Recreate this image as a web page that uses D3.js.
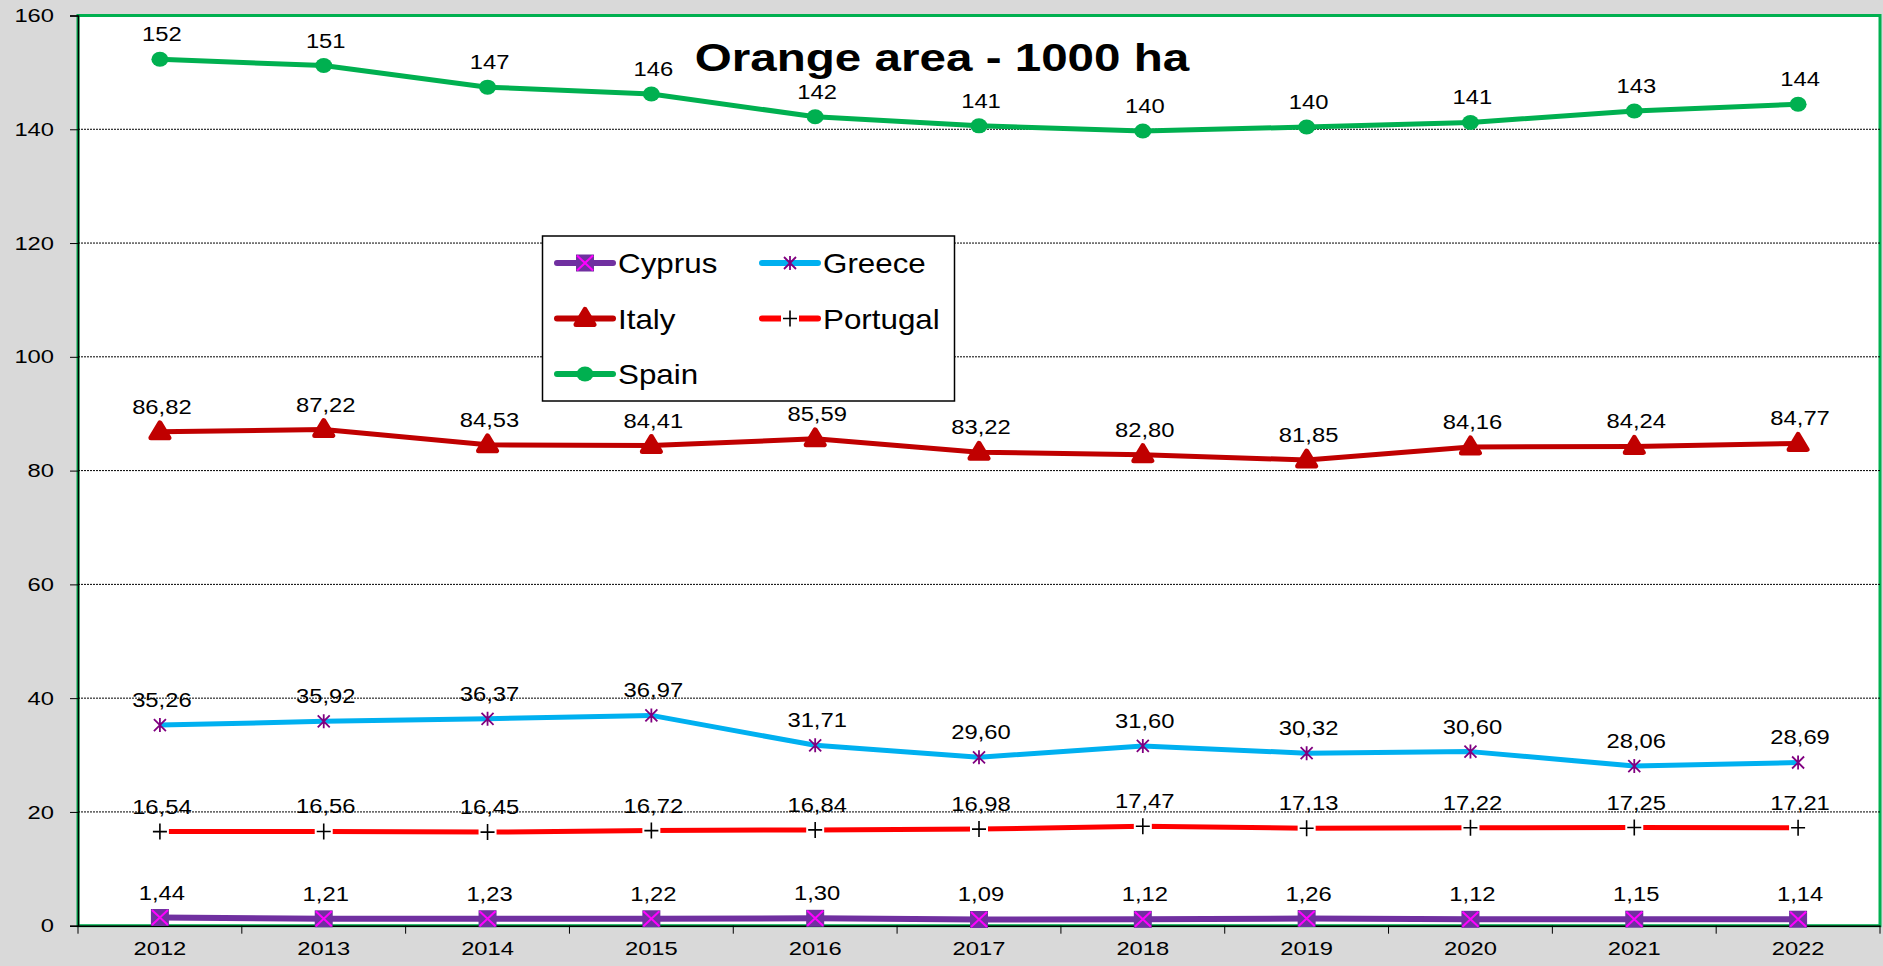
<!DOCTYPE html>
<html>
<head>
<meta charset="utf-8">
<script src="https://cdn.jsdelivr.net/npm/d3@7"></script>
<style>
  body { margin: 0; background: #d9d9d9; }
  svg { display: block; font-family: "Liberation Sans", Arial, sans-serif; }
</style>
</head>
<body>
<svg id="chart" width="1883" height="966"></svg>
<script>
const years = ["2012", "2013", "2014", "2015", "2016", "2017", "2018", "2019", "2020", "2021", "2022"];
const cyprus = [1.44, 1.21, 1.23, 1.22, 1.30, 1.09, 1.12, 1.26, 1.12, 1.15, 1.14];
const greece = [35.26, 35.92, 36.37, 36.97, 31.71, 29.60, 31.60, 30.32, 30.60, 28.06, 28.69];
const italy = [86.82, 87.22, 84.53, 84.41, 85.59, 83.22, 82.80, 81.85, 84.16, 84.24, 84.77];
const portugal = [16.54, 16.56, 16.45, 16.72, 16.84, 16.98, 17.47, 17.13, 17.22, 17.25, 17.21];
const spain = [152.3, 151.2, 147.4, 146.2, 142.2, 140.6, 139.7, 140.4, 141.2, 143.2, 144.4];
const yTicks = [0, 20, 40, 60, 80, 100, 120, 140, 160];

const svg = d3.select('#chart');

const plotLeft = 78, plotRight = 1880, plotTop = 15.5, plotBottom = 925.7;
const stretch = 1.25; // text in the original is a bit wider than plain Arial

const x = d3.scaleBand().domain(years).range([plotLeft, plotRight]);
const y = d3.scaleLinear().domain([0, 160]).range([plotBottom, plotTop]);
const cx = (d) => x(d) + x.bandwidth() / 2;

const locale = d3.formatLocale({ decimal: ",", thousands: ".", grouping: [3], currency: ["", "€"] });
const fmt2 = locale.format(".2f");
const fmt0 = locale.format(".0f");

// plot background + green border
svg.append('rect')
  .attr('x', plotLeft).attr('y', plotTop)
  .attr('width', plotRight - plotLeft).attr('height', plotBottom - plotTop)
  .attr('fill', '#fff')
  .attr('stroke', '#00b050')
  .attr('stroke-width', 3);

// gridlines
svg.append('g')
  .selectAll('line')
  .data(yTicks.filter((t) => t > 0 && t < 160))
  .join('line')
  .attr('x1', plotLeft).attr('x2', plotRight)
  .attr('y1', (d) => y(d)).attr('y2', (d) => y(d))
  .attr('stroke', '#000')
  .attr('stroke-width', 1)
  .attr('stroke-dasharray', '2,1');

// axes
const yAxis = svg.append('g')
  .attr('transform', `translate(${plotLeft},0)`)
  .call(d3.axisLeft(y).tickValues(yTicks).tickSize(8).tickFormat(d3.format('d')));
yAxis.select('.domain').attr('stroke', '#000').attr('stroke-width', 1.5);
yAxis.selectAll('.tick line').attr('stroke', '#000');
yAxis.selectAll('.tick text')
  .attr('x', -24 / stretch)
  .attr('transform', `scale(${stretch},1)`)
  .attr('font-size', 19).attr('fill', '#000')
  .attr('font-family', '"Liberation Sans", Arial, sans-serif');

const xAxis = svg.append('g')
  .attr('transform', `translate(0,${plotBottom})`)
  .call(d3.axisBottom(x).tickSize(0).tickPadding(16));
xAxis.select('.domain').attr('stroke', '#000').attr('stroke-width', 1.5);
xAxis.selectAll('.tick text')
  .attr('transform', `scale(${stretch},1)`)
  .attr('font-size', 19).attr('fill', '#000')
  .attr('font-family', '"Liberation Sans", Arial, sans-serif');

// x boundary ticks
svg.append('g')
  .selectAll('line')
  .data(years.concat(['end']))
  .join('line')
  .attr('x1', (d, i) => i < years.length ? x(d) : plotRight)
  .attr('x2', (d, i) => i < years.length ? x(d) : plotRight)
  .attr('y1', plotBottom).attr('y2', plotBottom + 8)
  .attr('stroke', '#000').attr('stroke-width', 1);

const series = [
  { name: 'Cyprus', values: cyprus, color: '#7030a0', marker: 'xsquare', fmt: fmt2 },
  { name: 'Greece', values: greece, color: '#00b0f0', marker: 'star', fmt: fmt2 },
  { name: 'Italy', values: italy, color: '#c00000', marker: 'triangle', fmt: fmt2 },
  { name: 'Portugal', values: portugal, color: '#ff0000', marker: 'plus', fmt: fmt2 },
  { name: 'Spain', values: spain, color: '#00b050', marker: 'circle', fmt: fmt0 }
];

function drawMarker(g, type, px, py) {
  if (type === 'xsquare') {
    g.append('rect').attr('x', px - 9).attr('y', py - 8.5).attr('width', 18).attr('height', 17)
      .attr('fill', '#7030a0');
    g.append('path').attr('d', `M${px - 8},${py - 7.5}L${px + 8},${py + 7.5}M${px + 8},${py - 7.5}L${px - 8},${py + 7.5}`)
      .attr('stroke', '#ff00ff').attr('stroke-width', 2).attr('fill', 'none');
  } else if (type === 'star') {
    g.append('path').attr('d', `M${px - 6},${py - 6}L${px + 6},${py + 6}M${px + 6},${py - 6}L${px - 6},${py + 6}M${px},${py - 7}L${px},${py + 7}`)
      .attr('stroke', '#800080').attr('stroke-width', 1.8).attr('fill', 'none');
  } else if (type === 'triangle') {
    g.append('path').attr('d', `M${px},${py - 9}L${px + 9},${py + 6}L${px - 9},${py + 6}Z`)
      .attr('fill', '#c00000').attr('stroke', '#c00000').attr('stroke-width', 5).attr('stroke-linejoin', 'round');
  } else if (type === 'plus') {
    g.append('rect').attr('x', px - 9).attr('y', py - 4).attr('width', 18).attr('height', 8).attr('fill', '#fff');
    g.append('path').attr('d', `M${px - 7},${py}L${px + 7},${py}M${px},${py - 8}L${px},${py + 8}`)
      .attr('stroke', '#000').attr('stroke-width', 1.6).attr('fill', 'none');
  } else if (type === 'circle') {
    g.append('ellipse').attr('cx', px).attr('cy', py).attr('rx', 8.5).attr('ry', 7.5).attr('fill', '#00b050');
  }
}

const line = d3.line()
  .x((d, i) => cx(years[i]))
  .y((d) => y(d));

series.forEach((s) => {
  const g = svg.append('g');
  g.append('path')
    .datum(s.values)
    .attr('d', line)
    .attr('fill', 'none')
    .attr('stroke', s.color)
    .attr('stroke-width', s.name === 'Cyprus' ? 6 : 5)
    .attr('stroke-linejoin', 'round');
  s.values.forEach((v, i) => drawMarker(g, s.marker, cx(years[i]), y(v)));
  g.selectAll('text')
    .data(s.values)
    .join('text')
    .attr('transform', (d, i) => `translate(${cx(years[i]) + 2},${y(d) - 18}) scale(1.22,1)`)
    .attr('text-anchor', 'middle')
    .attr('font-size', 19.5)
    .attr('fill', '#000')
    .text((d) => s.fmt(d));
});

// title
svg.append('text')
  .attr('transform', 'translate(942,70.5) scale(1.22,1)')
  .attr('text-anchor', 'middle')
  .attr('font-size', 39)
  .attr('font-weight', 'bold')
  .attr('fill', '#000')
  .text('Orange area - 1000 ha');

// legend
const legend = svg.append('g');
legend.append('rect')
  .attr('x', 542.5).attr('y', 236).attr('width', 412).attr('height', 165)
  .attr('fill', '#fff').attr('stroke', '#000').attr('stroke-width', 1.5);

const legendPos = [
  { col: 0, row: 0 }, { col: 1, row: 0 },
  { col: 0, row: 1 }, { col: 1, row: 1 },
  { col: 0, row: 2 }
];
series.forEach((s, i) => {
  const p = legendPos[i];
  const lx = 557 + p.col * 205;
  const ly = 263 + p.row * 55.5;
  legend.append('line')
    .attr('x1', lx).attr('x2', lx + 56)
    .attr('y1', ly).attr('y2', ly)
    .attr('stroke', s.color).attr('stroke-width', 6).attr('stroke-linecap', 'round');
  drawMarker(legend, s.marker, lx + 28, ly);
  legend.append('text')
    .attr('transform', `translate(${lx + 61},${ly + 10}) scale(1.12,1)`)
    .attr('font-size', 28)
    .attr('fill', '#000')
    .text(s.name);
});
</script>
</body>
</html>
